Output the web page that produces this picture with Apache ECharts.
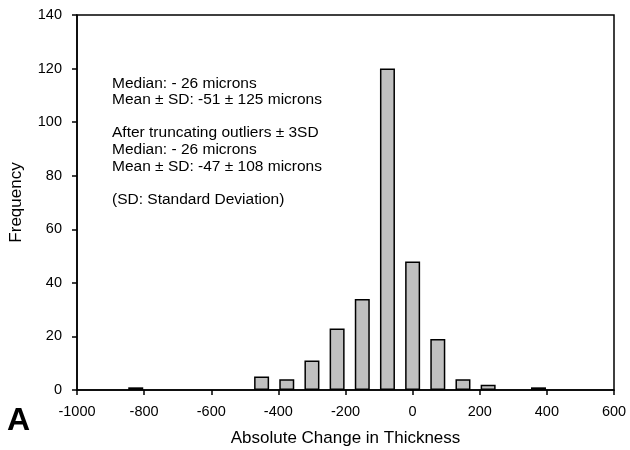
<!DOCTYPE html>
<html>
<head>
<meta charset="utf-8">
<script src="https://cdn.jsdelivr.net/npm/echarts@6/dist/echarts.min.js"></script>
<style>
  html, body { margin: 0; padding: 0; background: #fff; }
  #chart { width: 630px; height: 450px; }
</style>
</head>
<body>
<div id="chart"></div>
<script>
// bin centres (microns) and counts
const binCenters = [-825, -450, -375, -300, -225, -150, -75, 0, 75, 150, 225, 375];
const counts = [1, 5, 4, 11, 23, 34, 120, 48, 19, 4, 2, 1];
const xTicks = [-1000, 600, 200];
const yTicks = [0, 140, 20];
const notes = [
  'Median: - 26 microns',
  'Mean \u00b1 SD: -51 \u00b1 125 microns',
  '',
  'After truncating outliers \u00b1 3SD',
  'Median: - 26 microns',
  'Mean \u00b1 SD: -47 \u00b1 108 microns',
  '',
  '(SD: Standard Deviation)',
];

const font = 'Liberation Sans, Arial, sans-serif';
const myChart = echarts.init(document.getElementById('chart'));

const option = {
  animation: false,
  grid: {
    left: 77,
    right: 16,
    top: 15,
    bottom: 60,
    outerBoundsMode: 'none',
    show: true,
    borderColor: '#000',
    borderWidth: 1.5,
  },
  xAxis: {
    type: 'value',
    min: xTicks[0],
    max: xTicks[1],
    interval: xTicks[2],
    name: 'Absolute Change in Thickness',
    nameLocation: 'middle',
    nameGap: 40,
    nameTextStyle: { color: '#000', fontSize: 17, fontFamily: font },
    splitLine: { show: false },
    axisLine: { onZero: false, lineStyle: { color: '#000', width: 1.5 } },
    axisTick: { length: 5, lineStyle: { color: '#000', width: 1.5 } },
    axisLabel: {
      color: '#000',
      fontSize: 14.5,
      fontFamily: font,
      margin: 14,
      formatter: v => String(v),
    },
  },
  yAxis: {
    type: 'value',
    min: yTicks[0],
    max: yTicks[1],
    interval: yTicks[2],
    name: 'Frequency',
    nameLocation: 'middle',
    nameGap: 52,
    nameTextStyle: { color: '#000', fontSize: 17, fontFamily: font },
    splitLine: { show: false },
    axisLine: { show: true, onZero: false, lineStyle: { color: '#000', width: 1.5 } },
    axisTick: { show: true, length: 5, lineStyle: { color: '#000', width: 1.5 } },
    axisLabel: { color: '#000', fontSize: 14.5, fontFamily: font, margin: 15 },
  },
  series: [
    {
      type: 'bar',
      data: binCenters.map((c, i) => [c, counts[i]]),
      barWidth: 15,
      itemStyle: {
        color: '#c0c0c0',
        borderColor: '#000',
        borderWidth: 1.5,
      },
    },
  ],
  graphic: [
    {
      type: 'text',
      left: 112,
      top: 75,
      style: {
        text: notes.join('\n'),
        font: '15.5px ' + font,
        fill: '#000',
        lineHeight: 16.6,
      },
    },
    {
      type: 'text',
      left: 7,
      top: 405,
      style: {
        text: 'A',
        font: 'bold 32px ' + font,
        fill: '#000',
      },
    },
  ],
};

myChart.setOption(option);
</script>
</body>
</html>
